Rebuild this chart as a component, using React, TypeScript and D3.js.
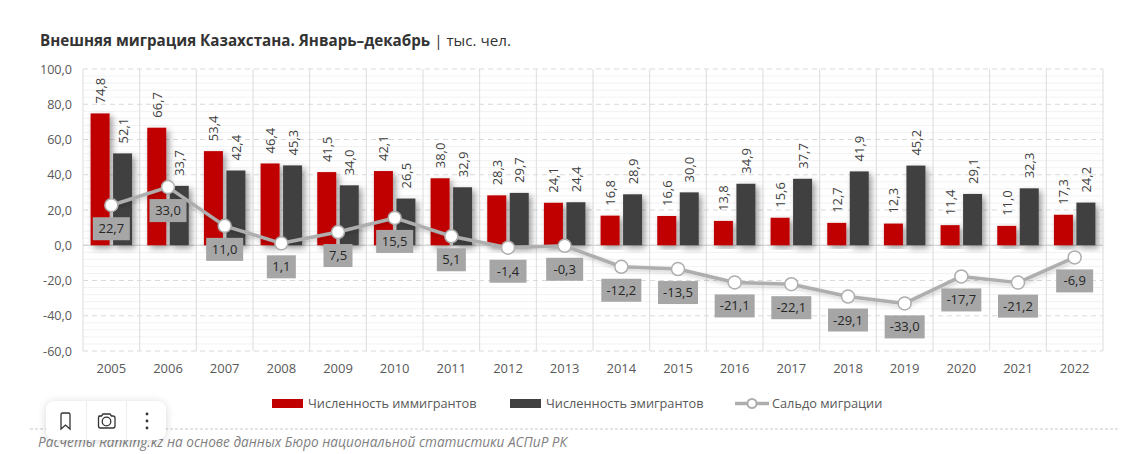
import React from "react";
import * as d3 from "d3";

const years = ["2005","2006","2007","2008","2009","2010","2011","2012","2013","2014","2015","2016","2017","2018","2019","2020","2021","2022"];
const immigrants = [74.8,66.7,53.4,46.4,41.5,42.1,38.0,28.3,24.1,16.8,16.6,13.8,15.6,12.7,12.3,11.4,11.0,17.3];
const emigrants = [52.1,33.7,42.4,45.3,34.0,26.5,32.9,29.7,24.4,28.9,30.0,34.9,37.7,41.9,45.2,29.1,32.3,24.2];
const balance = [22.7,33.0,11.0,1.1,7.5,15.5,5.1,-1.4,-0.3,-12.2,-13.5,-21.1,-22.1,-29.1,-33.0,-17.7,-21.2,-6.9];
const yTicks = [100,80,60,40,20,0,-20,-40,-60];
const minorTicks = d3.range(-60, 100, 4).filter((v) => v % 20 !== 0);

const fmt = (v: number) => v.toFixed(1).replace(".", ",");
const FONT = "'Open Sans', 'Noto Sans', sans-serif";

export default function App() {
  const x = d3.scaleBand<string>().domain(years).range([83, 1103]);
  const y = d3.scaleLinear().domain([-60, 100]).range([351, 69]);
  const bw = 19;
  const gap = 3.5;
  const center = (i: number) => (x(years[i]) as number) + x.bandwidth() / 2;
  const line = d3.line<number>().x((_, i) => center(i)).y((d) => y(d));

  return (
    <svg width={1123} height={454} style={{ position: "absolute", left: 0, top: 0, background: "#fff", fontFamily: FONT }}>
      <defs>
        <filter id="barShadow" x="-40%" y="-10%" width="200%" height="125%">
          <feDropShadow dx="3" dy="3" stdDeviation="3" floodColor="#000" floodOpacity="0.38" />
        </filter>
        <filter id="lineShadow" x="-10%" y="-20%" width="120%" height="150%">
          <feDropShadow dx="1" dy="2" stdDeviation="2" floodColor="#000" floodOpacity="0.2" />
        </filter>
        <filter id="widgetShadow" x="-20%" y="-40%" width="140%" height="180%">
          <feDropShadow dx="0" dy="1" stdDeviation="4" floodColor="#000" floodOpacity="0.16" />
        </filter>
      </defs>

      <text x={40} y={45.5} fontSize={15.2} fill="#333">
        <tspan fontWeight={700}>Внешняя миграция Казахстана. Январь–декабрь</tspan>
        <tspan> | тыс. чел.</tspan>
      </text>

      {minorTicks.map((v) => (
        <line key={v} x1={83} x2={1103} y1={y(v)} y2={y(v)} stroke="#f2f2f2" strokeWidth={1} />
      ))}
      {yTicks.map((v) => (
        <line key={v} x1={83} x2={1103} y1={y(v)} y2={y(v)} stroke="#d9d9d9" strokeWidth={1} strokeDasharray="5 4" />
      ))}
      {d3.range(years.length + 1).map((i) => {
        const px = 83 + i * x.bandwidth();
        return <line key={i} x1={px} x2={px} y1={69} y2={351} stroke="#dcdcdc" strokeWidth={1} />;
      })}
      <line x1={83} x2={1103} y1={y(0)} y2={y(0)} stroke="#cfcfcf" strokeWidth={1} />

      {yTicks.map((v) => (
        <text key={v} x={72} y={y(v) + 4.5} textAnchor="end" fontSize={12.6} fill="#595959">{fmt(v)}</text>
      ))}
      {years.map((yr, i) => (
        <text key={yr} x={center(i)} y={373} textAnchor="middle" fontSize={13} fill="#595959">{yr}</text>
      ))}

      {years.map((yr, i) => (
        <g key={yr}>
          <rect x={center(i) - gap / 2 - bw} y={y(immigrants[i])} width={bw} height={y(0) - y(immigrants[i])} fill="#c00000" filter="url(#barShadow)" />
          <rect x={center(i) + gap / 2} y={y(emigrants[i])} width={bw} height={y(0) - y(emigrants[i])} fill="#404040" filter="url(#barShadow)" />
        </g>
      ))}

      {years.map((yr, i) => (
        <g key={yr} fontSize={13} fill="#404040">
          <text transform={`translate(${center(i) - gap / 2 - bw / 2 + 5},${y(immigrants[i]) - 10}) rotate(-90)`}>{fmt(immigrants[i])}</text>
          <text transform={`translate(${center(i) + gap / 2 + bw / 2 + 5},${y(emigrants[i]) - 10}) rotate(-90)`}>{fmt(emigrants[i])}</text>
        </g>
      ))}

      <path d={line(balance) as string} fill="none" stroke="#aeaeae" strokeWidth={3.5} strokeLinejoin="round" filter="url(#lineShadow)" />
      {balance.map((v, i) => (
        <circle key={i} cx={center(i)} cy={y(v)} r={6.5} fill="#fff" stroke="#aeaeae" strokeWidth={1.5} />
      ))}
      {balance.map((v, i) => {
        const len = fmt(v).length;
        const w = len >= 5 ? 40 : len === 4 ? 37 : 29;
        const cy = y(v) + 23.5;
        return (
          <g key={i}>
            <rect x={center(i) - w / 2} y={cy - 11.5} width={w} height={23} fill="#a6a6a6" />
            <text x={center(i)} y={cy + 4.5} textAnchor="middle" fontSize={13} fill="#262626">{fmt(v)}</text>
          </g>
        );
      })}

      <rect x={272} y={399} width={31} height={9} fill="#c00000" />
      <text x={308} y={408} fontSize={12.75} fill="#595959">Численность иммигрантов</text>
      <rect x={510} y={399} width={31} height={9} fill="#404040" />
      <text x={546} y={408} fontSize={12.75} fill="#595959">Численность эмигрантов</text>
      <line x1={735} x2={769} y1={403.5} y2={403.5} stroke="#aeaeae" strokeWidth={3.5} />
      <circle cx={752} cy={403.5} r={4.5} fill="#fff" stroke="#aeaeae" strokeWidth={2} />
      <text x={772} y={408} fontSize={12.75} fill="#595959">Сальдо миграции</text>

      <line x1={30} x2={1120} y1={429} y2={429} stroke="#c8c8c8" strokeWidth={1} strokeDasharray="3 2" />
      <text x={38} y={447} fontSize={13.6} fontStyle="italic" fill="#7f7f7f">Расчеты Ranking.kz на основе данных Бюро национальной статистики АСПиР РК</text>

      <g>
        <rect x={46} y={401} width={120} height={39} rx={9} fill="#fff" filter="url(#widgetShadow)" />
        <line x1={86.5} x2={86.5} y1={401} y2={440} stroke="#eeeeee" />
        <line x1={126.5} x2={126.5} y1={401} y2={440} stroke="#eeeeee" />
        <path d="M61 414.5 a1.5 1.5 0 0 1 1.5 -1.5 h6 a1.5 1.5 0 0 1 1.5 1.5 v14.5 l-4.5 -4 l-4.5 4 z" fill="none" stroke="#333" strokeWidth={1.3} />
        <path d="M98.5 416 h3 l1.5 -2 h7 l1.5 2 h1.5 a2 2 0 0 1 2 2 v8 a2 2 0 0 1 -2 2 h-12.5 a2 2 0 0 1 -2 -2 v-8 a2 2 0 0 1 2 -2 z" fill="none" stroke="#333" strokeWidth={1.3} />
        <circle cx={106.5} cy={421.5} r={4.3} fill="none" stroke="#333" strokeWidth={1.3} />
        <circle cx={147} cy={414} r={1.4} fill="#333" />
        <circle cx={147} cy={421} r={1.4} fill="#333" />
        <circle cx={147} cy={428} r={1.4} fill="#333" />
      </g>
    </svg>
  );
}
